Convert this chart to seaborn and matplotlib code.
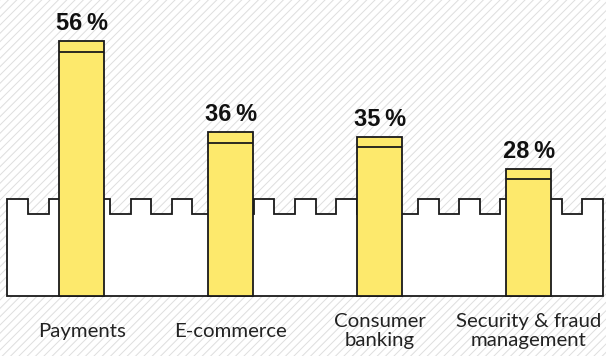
import numpy as np
import pandas as pd
import matplotlib.pyplot as plt
import seaborn as sns
from matplotlib.patches import Rectangle

# data
categories = ['Payments', 'E-commerce', 'Consumer\nbanking', 'Security & fraud\nmanagement']
values = [56, 36, 35, 28]
value_labels = ['56\u2009%', '36\u2009%', '35\u2009%', '28\u2009%']

df = pd.DataFrame({'category': categories, 'value': values})

sns.set_style('white')
plt.rcParams['hatch.linewidth'] = 0.7

fig = plt.figure(figsize=(6.06, 3.56), dpi=100)
ax = fig.add_axes([0, 0, 1, 1])

bar_w = 0.302
sns.barplot(data=df, x='category', y='value', width=bar_w, color='#fde96c',
            edgecolor='#1a1a1a', linewidth=1.3, saturation=1, ax=ax, zorder=3)

# top "cap" line of each tower
cap = 2.35
xs = np.arange(len(values))
ax.hlines(np.array(values) - cap, xs - bar_w / 2, xs + bar_w / 2,
          color='#1a1a1a', linewidth=1.3, zorder=4)

# castle wall behind the bars
n_seg = 29
wall_top, wall_low = 21.3, 18.0
edges = np.linspace(-0.5, 3.5, n_seg + 1)
wx, wy = [-0.5], [0]
for i in range(n_seg):
    h = wall_top if i % 2 == 0 else wall_low
    wx += [edges[i], edges[i + 1]]
    wy += [h, h]
wx += [3.5]
wy += [0]
ax.fill(wx, wy, facecolor='white', edgecolor='#1a1a1a', linewidth=1.3, zorder=2)

# diagonal striped background
ax.add_patch(Rectangle((0, 0), 1, 1, transform=ax.transAxes, facecolor='white',
                       edgecolor='#dedede', hatch='////', linewidth=0, zorder=0))

# value labels
for x, v, lab in zip(xs, values, value_labels):
    ax.text(x, v + 1.3, lab, ha='center', va='bottom', fontsize=17,
            fontweight='bold', family='Liberation Sans', color='#111111')

# category labels
for x, c in zip(xs, categories):
    ax.text(x, -7.7, c, ha='center', va='center', fontsize=14.7, linespacing=1.2,
            family='Lato', color='#222222')

ax.set_xlim(-0.55, 3.52)
ax.set_ylim(-13.19, 65.05)
ax.set_axis_off()

plt.savefig('out.png', dpi=100)
